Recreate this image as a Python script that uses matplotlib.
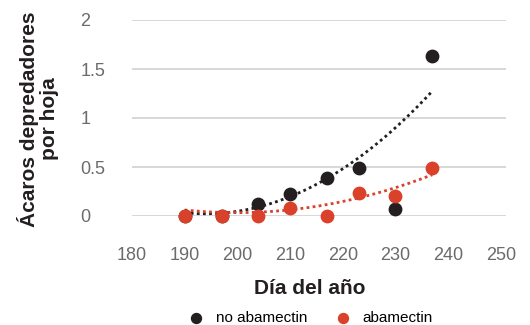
import matplotlib.pyplot as plt
import numpy as np

plt.rcParams['font.family'] = ['Liberation Sans', 'DejaVu Sans']

dias = [190, 197, 204, 210, 217, 223, 230, 237]
no_abamectin = [0.0, 0.0, 0.12, 0.22, 0.39, 0.49, 0.07, 1.63]
abamectin = [0.0, 0.0, 0.0, 0.08, 0.0, 0.23, 0.20, 0.49]
# dotted trend lines as they appear in the chart, read at the same days
tendencia_no_abamectin = [0.01, 0.04, 0.12, 0.21, 0.38, 0.57, 0.86, 1.31]
tendencia_abamectin = [0.07, 0.03, 0.03, 0.06, 0.12, 0.19, 0.30, 0.41]
xticks = [180, 190, 200, 210, 220, 230, 240, 250]
yticks = [0, 0.5, 1, 1.5, 2]
yticklabels = ['0', '0.5', '1', '1.5', '2']

negro = '#231f20'
rojo = '#d9412a'

fig = plt.figure(figsize=(5.3, 3.25), dpi=100)
ax = fig.add_axes([132 / 530, 1 - 216 / 325, 374 / 530, 196 / 325])

x = np.array(dias, dtype=float)
xs = np.linspace(x.min(), x.max(), 200)
for tend, color in ((tendencia_no_abamectin, negro), (tendencia_abamectin, rojo)):
    coef = np.polyfit(x - 210, tend, 2)
    ax.plot(xs, np.polyval(coef, xs - 210), color=color, lw=2, ls=(0, (1, 1.2)), zorder=2)

ax.scatter(dias, no_abamectin, s=80, color=negro, zorder=3, clip_on=False, label='no abamectin')
ax.scatter(dias, abamectin, s=80, color=rojo, zorder=4, clip_on=False, label='abamectin')

ax.set_xlim(180, 251)
ax.set_ylim(0, 2)
ax.set_xticks(xticks)
ax.set_yticks(yticks)
ax.set_yticklabels(yticklabels)
ax.grid(axis='y', color='#d4d4d4', lw=1.3)
ax.set_axisbelow(True)
for s in ax.spines.values():
    s.set_visible(False)
ax.tick_params(length=0, labelsize=13, colors='#6b6b6b')
ax.tick_params(axis='x', pad=22)
ax.tick_params(axis='y', pad=37)
for lab in ax.get_yticklabels():
    lab.set_ha('left')

fig.text(38 / 530, 1 - 119 / 325, 'Ácaros depredadores\npor hoja', rotation=90,
         ha='center', va='center', fontsize=15, fontweight='bold',
         color='#231f20', linespacing=1.1, multialignment='center')
fig.text(310 / 530, 1 - 289 / 325, 'Día del año', ha='center', va='center',
         fontsize=15, fontweight='bold', color='#231f20')

fig.legend(loc='center', bbox_to_anchor=(307 / 530, 1 - 318 / 325), ncol=2,
           frameon=False, fontsize=11, handletextpad=0.3, columnspacing=1.3,
           markerscale=0.8, borderaxespad=0, borderpad=0)

fig.savefig('out.png', dpi=100)
